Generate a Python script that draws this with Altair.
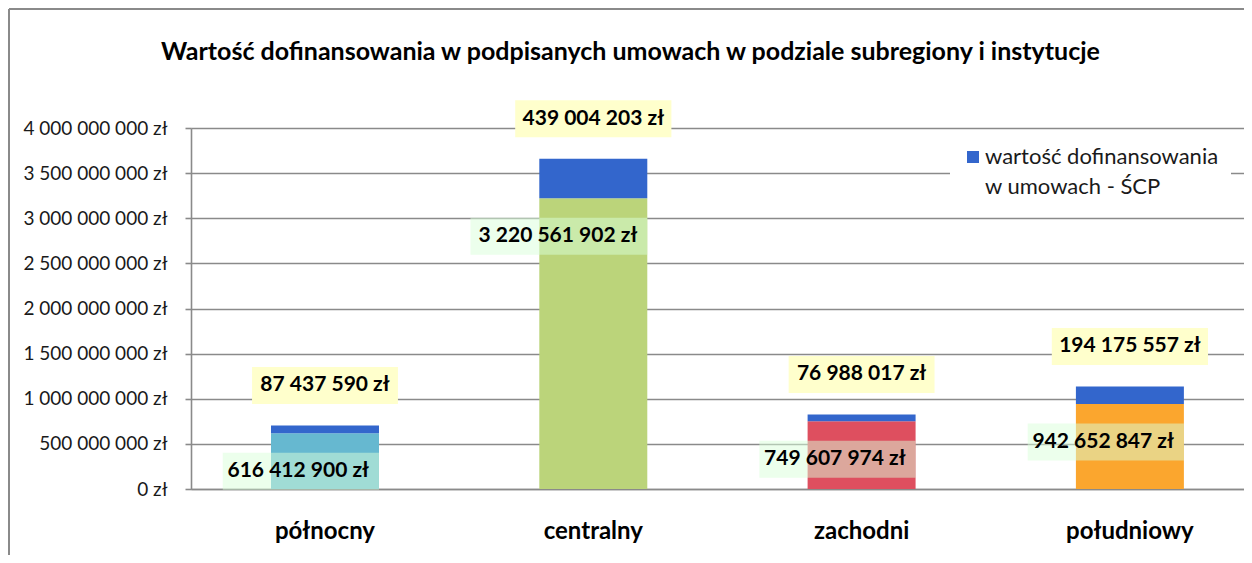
import altair as alt
import pandas as pd

# ---- data ----
categories = ["północny", "centralny", "zachodni", "południowy"]
instytucje = [616412900, 3220561902, 749607974, 942652847]
scp = [87437590, 439004203, 76988017, 194175557]
y_ticks = [0, 500000000, 1000000000, 1500000000, 2000000000,
           2500000000, 3000000000, 3500000000, 4000000000]
legend_line1 = "wartość dofinansowania"
legend_line2 = "w umowach -  ŚCP"
title_text = "Wartość dofinansowania w podpisanych umowach w podziale subregiony i instytucje"

# ---- styles ----
bottom_colors = ["#66B8D0", "#BBD47A", "#DE4F5F", "#FBA62E"]
scp_color = "#3366CC"
grid_gray = "#8A8A8A"
FONT = "Lato"

seg_names = [c + " (instytucje)" for c in categories]


def fmt(v):
    return f"{v:,}".replace(",", " ") + " zł"


df = pd.DataFrame({
    "cat": categories,
    "inst": instytucje,
    "scp": scp,
    "seg": seg_names,
    "inst_lab": [fmt(v) for v in instytucje],
    "scp_lab": [fmt(v) for v in scp],
})

base = alt.Chart(df).transform_calculate(total="datum.inst + datum.scp")

x_enc = alt.X(
    "cat:N",
    sort=categories,
    scale=alt.Scale(domain=categories, paddingInner=0.5975, paddingOuter=0.2611, align=0.571),
    axis=alt.Axis(
        title=None, labelAngle=0, labelFont=FONT, labelFontSize=24, labelFontWeight="bold",
        labelColor="#000000", labelBaseline="alphabetic", labelPadding=49,
        ticks=False, tickSize=0, domain=True, domainColor=grid_gray, domainWidth=1.6,
        grid=False,
    ),
)

y_scale = alt.Scale(domain=[0, 4000000000], nice=False, zero=True)
y_axis = alt.Axis(
    title=None, values=y_ticks,
    labelExpr="replace(format(datum.value, ',d'), regexp(',', 'g'), ' ') + ' zł'",
    labelFont=FONT, labelFontSize=19, labelColor="#1a1a1a", labelPadding=18,
    tickSize=6, tickColor=grid_gray, tickWidth=1.6,
    domain=True, domainColor=grid_gray, domainWidth=1.6,
    grid=True, gridColor=grid_gray, gridWidth=1.6,
)

# the legend's second text line is a symbol-less (transparent) entry
color_scale = alt.Scale(
    domain=seg_names + [legend_line1, legend_line2],
    range=bottom_colors + [scp_color, "rgba(255,255,255,0)"],
)

bars_bottom = base.mark_bar().encode(
    x=x_enc,
    y=alt.Y("inst:Q", scale=y_scale, axis=y_axis),
    color=alt.Color(
        "seg:N", scale=color_scale,
        legend=alt.Legend(
            values=[legend_line1, legend_line2], title=None, orient="none",
            legendX=759, legendY=6, padding=12, rowPadding=8,
            fillColor="white", strokeColor=None,
            labelFont=FONT, labelFontSize=22, labelColor="#1a1a1a", labelLimit=500,
            labelOffset=1, symbolType="square", symbolSize=144, symbolStrokeWidth=0,
        ),
    ),
)

bars_top = base.transform_calculate(seg="'" + legend_line1 + "'").mark_bar().encode(
    x=alt.X("cat:N", sort=categories),
    y=alt.Y("inst:Q"),
    y2=alt.Y2("total:Q"),
    color=alt.Color("seg:N"),
)

# label boxes (width follows the label's length)
top_box = base.transform_calculate(
    w="length(datum.scp_lab) * 10.3 + 12",
    path="'M' + (-datum.w / 2) + ',-18.5H' + (datum.w / 2) + 'V18.5H' + (-datum.w / 2) + 'Z'",
).mark_point(filled=True, size=4, color="#FFFFCC", opacity=1, strokeWidth=0, yOffset=-40).encode(
    x=alt.X("cat:N", sort=categories),
    y=alt.Y("total:Q"),
    shape=alt.Shape("path:N", scale=None),
)

bottom_box = base.transform_calculate(
    w="length(datum.inst_lab) * 10.3 + 12",
    path="'M' + (-datum.w) + ',-18.5H0V18.5H' + (-datum.w) + 'Z'",
).mark_point(filled=True, size=4, color="#D9FFD9", opacity=0.5, strokeWidth=0,
             xOffset=54, yOffset=38).encode(
    x=alt.X("cat:N", sort=categories),
    y=alt.Y("inst:Q"),
    shape=alt.Shape("path:N", scale=None),
)

top_text = base.mark_text(font=FONT, fontSize=21, fontWeight="bold", color="#000000",
                          align="center", baseline="middle", yOffset=-40).encode(
    x=alt.X("cat:N", sort=categories),
    y=alt.Y("total:Q"),
    text="scp_lab:N",
)

bottom_text = base.mark_text(font=FONT, fontSize=21, fontWeight="bold", color="#000000",
                             align="right", baseline="middle", xOffset=44, yOffset=38).encode(
    x=alt.X("cat:N", sort=categories),
    y=alt.Y("inst:Q"),
    text="inst_lab:N",
)

# outer chart frame (left and top edges)
frame_df = pd.DataFrame({"k": [0]})
frame_left = alt.Chart(frame_df).mark_rule(color=grid_gray, strokeWidth=2).encode(
    x=alt.value(-182), y=alt.value(-119), y2=alt.value(440))
frame_top = alt.Chart(frame_df).mark_rule(color=grid_gray, strokeWidth=2).encode(
    y=alt.value(-119), x=alt.value(-182), x2=alt.value(1070))

chart = alt.layer(
    bars_bottom, bars_top, bottom_box, top_box, bottom_text, top_text, frame_left, frame_top
).properties(
    width=1053,
    height=361,
    title=alt.TitleParams(
        text=title_text, font=FONT, fontSize=25, fontWeight="bold", color="#000000",
        anchor="middle", frame="group", dx=-87, offset=0, dy=57,
    ),
    autosize=alt.AutoSizeParams(type="none"),
    padding={"left": 183, "top": 120, "right": 0, "bottom": 66},
).configure_view(stroke=None).configure(background="white")

chart.save("out.html", embed_options={"renderer": "svg", "actions": False})
